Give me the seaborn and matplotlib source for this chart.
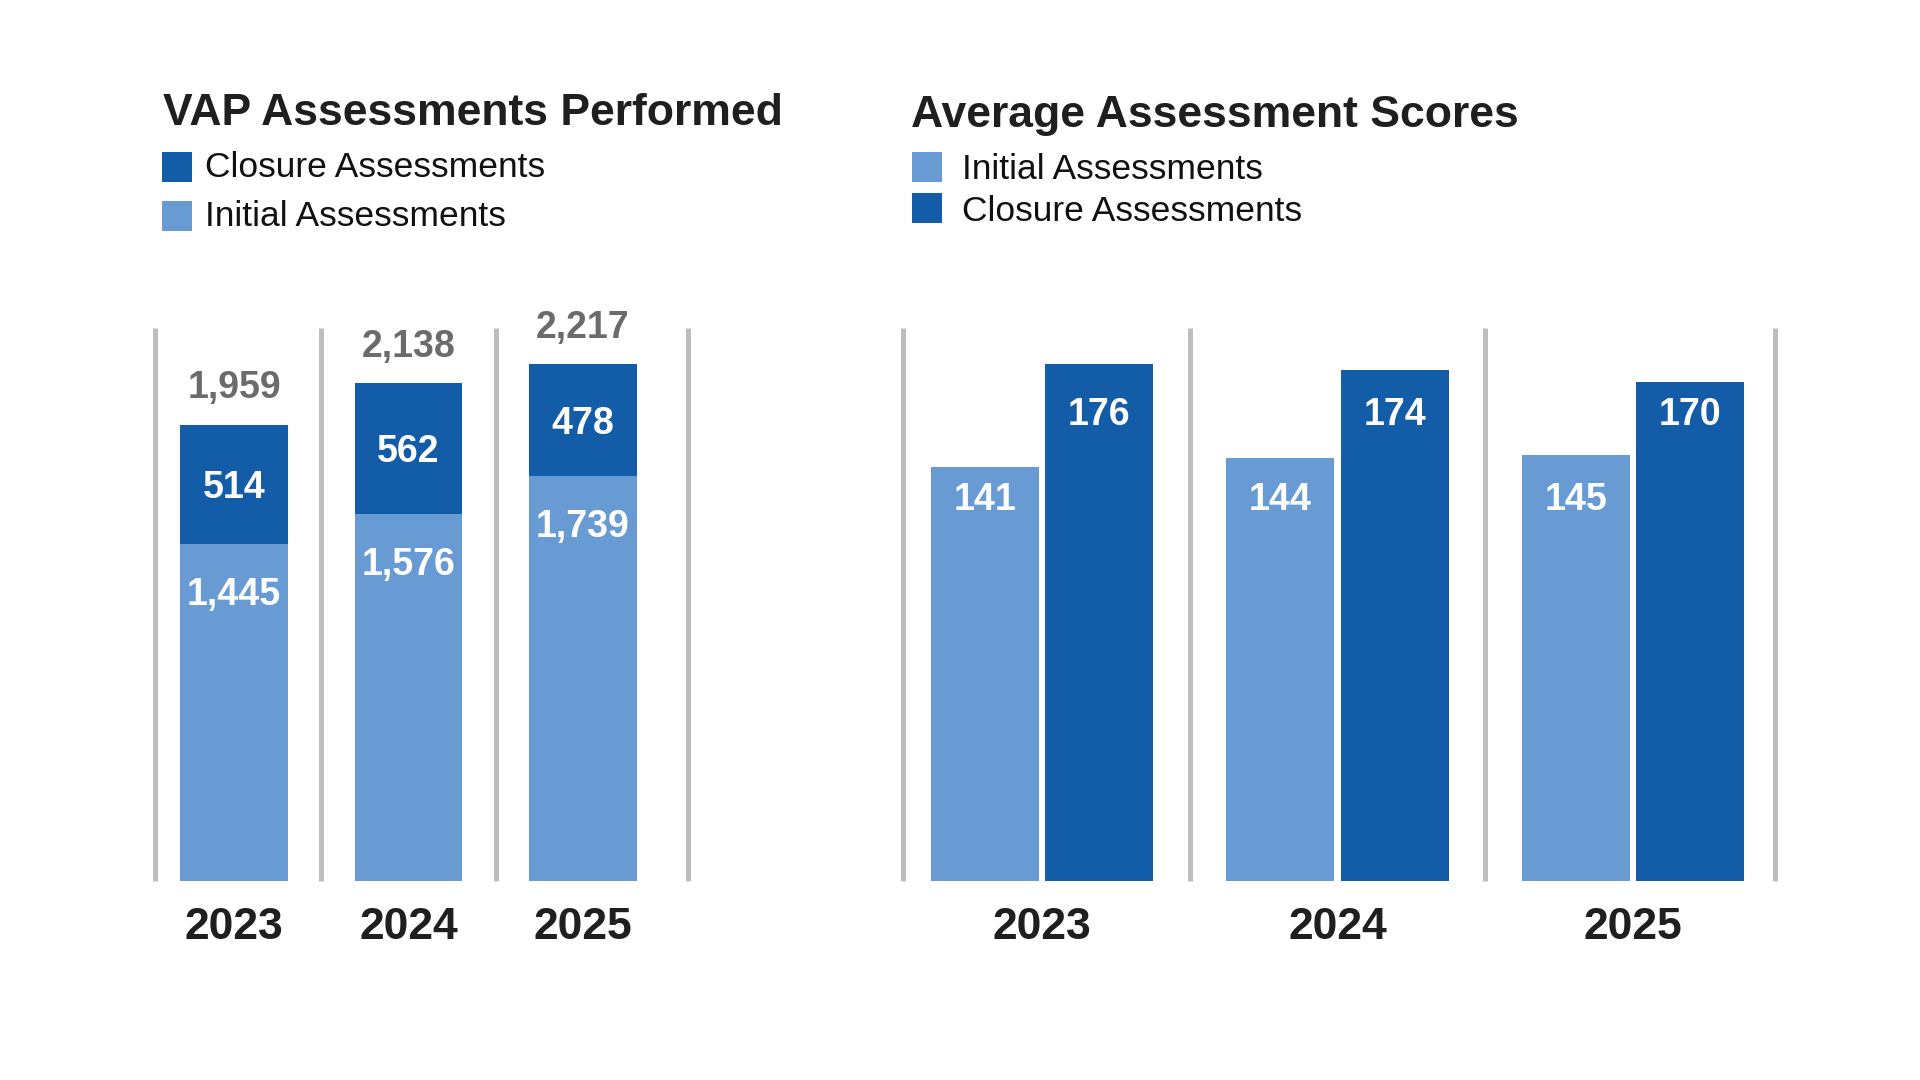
import numpy as np
import pandas as pd
import matplotlib
matplotlib.use("Agg")
import matplotlib.pyplot as plt
from matplotlib.patches import Rectangle
import seaborn as sns

# ---------------- data ----------------
years = ["2023", "2024", "2025"]
initial_counts = [1445, 1576, 1739]
closure_counts = [514, 562, 478]
initial_scores = [141, 144, 145]
closure_scores = [176, 174, 170]

title_left = "VAP Assessments Performed"
title_right = "Average Assessment Scores"
lbl_initial = "Initial Assessments"
lbl_closure = "Closure Assessments"

# ---------------- style ----------------
sns.set_theme(style="white")
plt.rcParams["font.family"] = ["Liberation Sans", "DejaVu Sans"]

LIGHT = "#689BD3"
DARK = "#135CA7"
GRID = "#BEBEBE"
TOTAL_GREY = "#6B6B6B"
INK = "#1F1F1F"

W, H = 1920, 1080
fig = plt.figure(figsize=(19.2, 10.8), dpi=100)
fig.patch.set_facecolor("white")


def fx(px):
    return px / W


def fy(py):
    return 1 - py / H


ax_bottom = fy(880.7)
ax_height = fy(328.3) - ax_bottom
axL = fig.add_axes([fx(155), ax_bottom, fx(688) - fx(155), ax_height])
axR = fig.add_axes([fx(903), ax_bottom, fx(1775) - fx(903), ax_height])

# ---------------- left: stacked counts ----------------
totals = [i + c for i, c in zip(initial_counts, closure_counts)]
dfL = pd.DataFrame({"year": years, "initial": initial_counts,
                    "closure": closure_counts, "total": totals})

barw_L = 0.6166
sns.barplot(data=dfL, x="year", y="total", color=DARK, width=barw_L,
            saturation=1, ax=axL, linewidth=0)
sns.barplot(data=dfL, x="year", y="initial", color=LIGHT, width=barw_L,
            saturation=1, ax=axL, linewidth=0)

ymaxL = max(totals) * 1.07
axL.set_ylim(0, ymaxL)
axL.set_xlim(-0.454, 2.603)

for i, (ini, clo, tot) in enumerate(zip(initial_counts, closure_counts, totals)):
    axL.annotate(f"{tot:,}", xy=(i, tot), xytext=(0, 29), textcoords="offset points",
                 ha="center", va="center_baseline", fontsize=27, fontweight="bold",
                 color=TOTAL_GREY, annotation_clip=False)
    axL.text(i, ini + clo / 2, f"{clo:,}", ha="center", va="center_baseline",
             fontsize=27, fontweight="bold", color="white")
    axL.annotate(f"{ini:,}", xy=(i, ini), xytext=(0, -34), textcoords="offset points",
                 ha="center", va="center_baseline", fontsize=27, fontweight="bold",
                 color="white")

# ---------------- right: grouped scores ----------------
dfR = pd.DataFrame({
    "year": years * 2,
    "type": [lbl_initial] * len(years) + [lbl_closure] * len(years),
    "score": initial_scores + closure_scores,
})
sns.barplot(data=dfR, x="year", y="score", hue="type",
            hue_order=[lbl_initial, lbl_closure], palette=[LIGHT, DARK],
            width=0.772, gap=0.053, saturation=1, ax=axR, linewidth=0,
            legend=False)

ymaxR = max(closure_scores) * 1.07
axR.set_ylim(0, ymaxR)
axR.set_xlim(-0.47, 2.48)

row_init = min(initial_scores) - 10
row_clo = min(closure_scores) - 10
off = 0.772 / 4
for i, (a, b) in enumerate(zip(initial_scores, closure_scores)):
    axR.text(i - off, row_init, f"{a}", ha="center", va="center_baseline",
             fontsize=27, fontweight="bold", color="white")
    axR.text(i + off, row_clo, f"{b}", ha="center", va="center_baseline",
             fontsize=27, fontweight="bold", color="white")

# ---------------- axes cosmetics ----------------
for ax, ymax in ((axL, ymaxL), (axR, ymaxR)):
    x0, x1 = ax.get_xlim()
    seps = [x0] + [k + 0.5 for k in range(len(years) - 1)] + [x1]
    ax.vlines(seps, 0, ymax, colors=GRID, linewidth=3.6, zorder=0, clip_on=False)
    for s in ax.spines.values():
        s.set_visible(False)
    ax.set_yticks([])
    ax.set_xlabel("")
    ax.set_ylabel("")
    ax.tick_params(axis="x", length=0, pad=19)
    ax.set_xticks(range(len(years)))
    ax.set_xticklabels(years, fontsize=32, fontweight="bold", color=INK)
    ax.set_facecolor("none")

# ---------------- titles ----------------
fig.text(fx(163), fy(125), title_left, fontsize=32, fontweight="bold",
         color=INK, ha="left", va="baseline")
fig.text(fx(911), fy(126.5), title_right, fontsize=32, fontweight="bold",
         color=INK, ha="left", va="baseline")

# ---------------- legends ----------------
def legend_item(x_sq, y_top, color, text, x_text, baseline):
    fig.patches.append(Rectangle((fx(x_sq), fy(y_top + 30)), 30 / W, 30 / H,
                                 transform=fig.transFigure, color=color, lw=0))
    fig.text(fx(x_text), fy(baseline), text, fontsize=25.5, color="#111111",
             ha="left", va="baseline")

legend_item(162, 151.7, DARK, lbl_closure, 205, 177)
legend_item(162, 200.5, LIGHT, lbl_initial, 205, 226)
legend_item(912, 151.7, LIGHT, lbl_initial, 962, 179)
legend_item(912, 193.3, DARK, lbl_closure, 962, 221)

fig.savefig("out.png", dpi=100, facecolor="white")
